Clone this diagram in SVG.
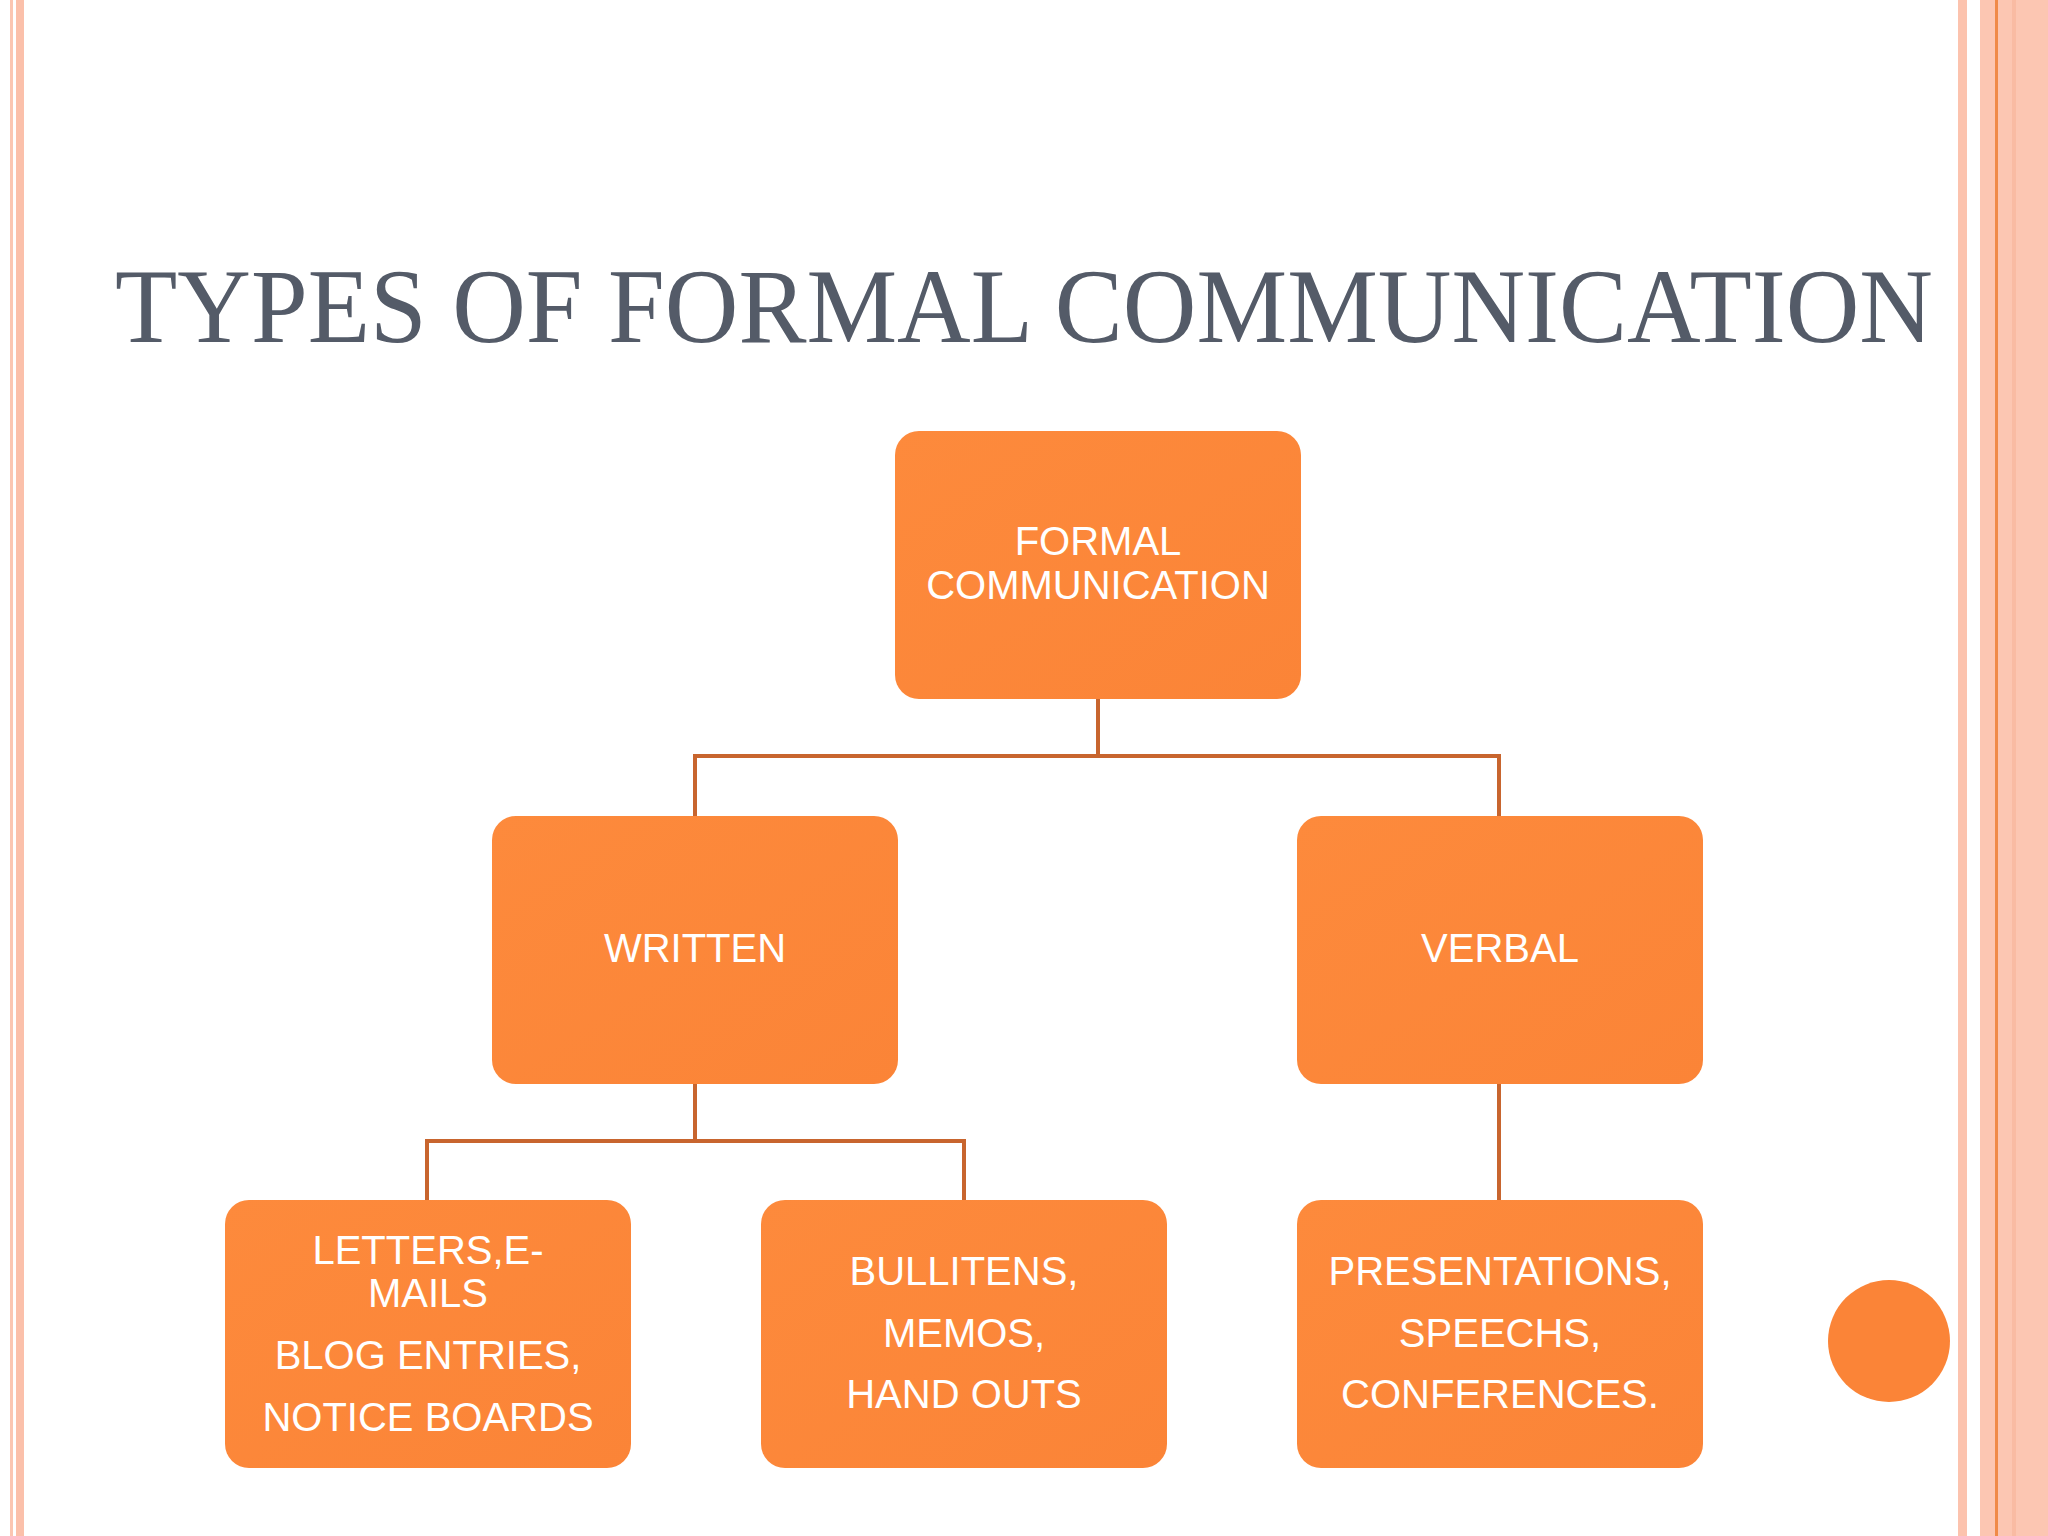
<svg xmlns="http://www.w3.org/2000/svg" width="2048" height="1536" viewBox="0 0 2048 1536">
<defs>
<linearGradient id="g" x1="0" y1="0" x2="1" y2="1"><stop offset="0" stop-color="#fd8a3c"/><stop offset="1" stop-color="#fb8437"/></linearGradient>
<style>
.box{fill:url(#g)}
.t{font-family:"Liberation Sans",Arial,sans-serif;font-size:40px;fill:#fff;text-anchor:middle}
.c{fill:none;stroke:#c8652e;stroke-width:4}
</style>
</defs>
<rect width="2048" height="1536" fill="#fff"/>
<rect x="10" y="0" width="3" height="1536" fill="#fbc6b2"/>
<rect x="16" y="0" width="8" height="1536" fill="#fbc0aa"/>
<rect x="1958" y="0" width="9" height="1536" fill="#fcc3ae"/>
<rect x="1980" y="0" width="68" height="1536" fill="#fcc6b2"/>
<rect x="1995" y="0" width="3" height="1536" fill="#f08a48"/>
<rect x="2012" y="0" width="4" height="1536" fill="#f9bba3"/>
<text x="115" y="342" font-family="'Liberation Serif','Times New Roman',serif" font-size="106" fill="#545b68" textLength="1818" lengthAdjust="spacingAndGlyphs">TYPES OF FORMAL COMMUNICATION</text>
<g id="connectors">
<path class="c" d="M1098 699V756M695 816V756H1499V816"/>
<path class="c" d="M695 1084V1141M427 1200V1141H964V1200"/>
<path class="c" d="M1499 1084V1200"/>
</g>
<g id="formal"><rect class="box" x="895" y="431" width="406" height="268" rx="24"/><text class="t" x="1098" y="555">FORMAL</text><text class="t" x="1098" y="599">COMMUNICATION</text></g>
<g id="written"><rect class="box" x="492" y="816" width="406" height="268" rx="24"/><text class="t" x="695" y="962">WRITTEN</text></g>
<g id="verbal"><rect class="box" x="1297" y="816" width="406" height="268" rx="24"/><text class="t" x="1500" y="962">VERBAL</text></g>
<g id="letters"><rect class="box" x="225" y="1200" width="406" height="268" rx="24"/><text class="t" x="428" y="1264">LETTERS,E-</text><text class="t" x="428" y="1307">MAILS</text><text class="t" x="428" y="1369">BLOG ENTRIES,</text><text class="t" x="428" y="1431">NOTICE BOARDS</text></g>
<g id="bulletins"><rect class="box" x="761" y="1200" width="406" height="268" rx="24"/><text class="t" x="964" y="1285">BULLITENS,</text><text class="t" x="964" y="1347">MEMOS,</text><text class="t" x="964" y="1408">HAND OUTS</text></g>
<g id="presentations"><rect class="box" x="1297" y="1200" width="406" height="268" rx="24"/><text class="t" x="1500" y="1285">PRESENTATIONS,</text><text class="t" x="1500" y="1347">SPEECHS,</text><text class="t" x="1500" y="1408">CONFERENCES.</text></g>
<circle cx="1889" cy="1341" r="61" fill="#fb8437"/>
</svg>
